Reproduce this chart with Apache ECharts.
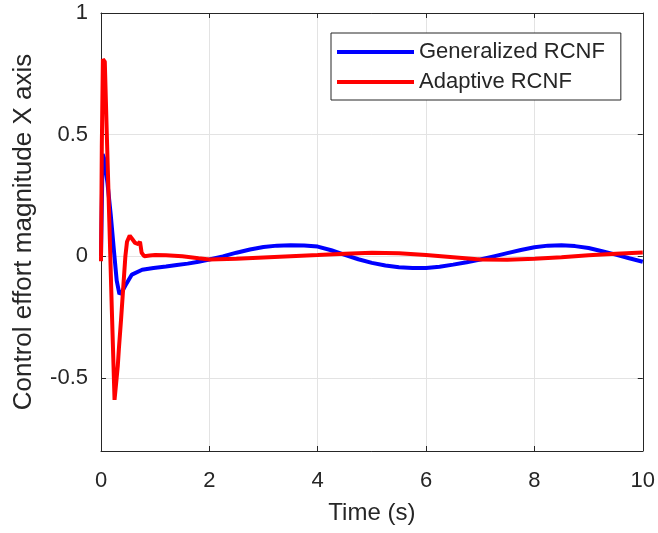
<!DOCTYPE html>
<html>
<head>
<meta charset="utf-8">
<script src="https://cdn.jsdelivr.net/npm/echarts@6/dist/echarts.min.js"></script>
<style>
html,body{margin:0;padding:0;background:#fff;}
#chart{width:658px;height:533px;}
</style>
</head>
<body>
<div id="chart"></div>
<script>
const tBlue = [0, 0.03, 0.06, 0.12, 0.18, 0.24, 0.29, 0.34, 0.39, 0.45, 0.57, 0.76, 0.97, 1.2, 1.4, 1.6, 1.8, 2.0, 2.25, 2.5, 2.75, 3.0, 3.25, 3.5, 3.75, 4.0, 4.25, 4.5, 4.75, 5.0, 5.25, 5.5, 5.75, 6.0, 6.25, 6.5, 6.75, 7.0, 7.25, 7.5, 7.75, 8.0, 8.25, 8.5, 8.75, 9.0, 9.25, 9.5, 9.75, 10];
const vBlue = [0, 0.42, 0.40, 0.30, 0.17, 0.02, -0.10, -0.155, -0.145, -0.12, -0.075, -0.055, -0.048, -0.042, -0.036, -0.03, -0.022, -0.013, 0.0, 0.015, 0.028, 0.038, 0.044, 0.046, 0.045, 0.04, 0.025, 0.006, -0.012, -0.027, -0.038, -0.045, -0.048, -0.048, -0.043, -0.034, -0.024, -0.013, 0.0, 0.013, 0.026, 0.037, 0.044, 0.046, 0.042, 0.034, 0.021, 0.007, -0.008, -0.022];
const tRed = [0, 0.015, 0.035, 0.07, 0.11, 0.154, 0.2, 0.25, 0.28, 0.31, 0.33, 0.37, 0.41, 0.45, 0.48, 0.53, 0.58, 0.63, 0.66, 0.69, 0.72, 0.75, 0.8, 0.9, 1.0, 1.2, 1.5, 1.8, 2.0, 2.5, 3.0, 3.5, 4.0, 4.5, 5.0, 5.5, 6.0, 6.5, 7.0, 7.5, 8.0, 8.5, 9.0, 9.5, 10];
const vRed = [-0.02, 0.45, 0.81, 0.80, 0.48, 0.14, -0.22, -0.59, -0.52, -0.45, -0.38, -0.26, -0.13, 0.0, 0.06, 0.085, 0.07, 0.055, 0.06, 0.05, 0.06, 0.015, 0.0, 0.003, 0.005, 0.004, 0.0, -0.008, -0.013, -0.01, -0.005, 0.0, 0.005, 0.011, 0.015, 0.013, 0.005, -0.004, -0.013, -0.014, -0.01, -0.004, 0.004, 0.011, 0.016];
const xTicks = [0, 2, 4, 6, 8, 10];
const yTicks = [-0.5, 0, 0.5, 1];
const seriesNames = ['Generalized RCNF', 'Adaptive RCNF'];

const axisColor = '#262626';
const gridColor = '#e3e3e3';
const font = 'Liberation Sans, Arial, Helvetica, sans-serif';

const chart = echarts.init(document.getElementById('chart'), null, {renderer: 'canvas'});
const baseX = {
  type: 'value', min: 0, max: 10,
  axisLine: {show: true, onZero: false, lineStyle: {color: axisColor, width: 1}},
  axisTick: {show: true, inside: true, length: 5, customValues: xTicks, lineStyle: {color: axisColor}},
};
const baseY = {
  type: 'value', min: -0.8, max: 1,
  axisLine: {show: true, onZero: false, lineStyle: {color: axisColor, width: 1}},
  axisTick: {show: true, inside: true, length: 5, customValues: yTicks, lineStyle: {color: axisColor}},
};
chart.setOption({
  animation: false,
  backgroundColor: '#fff',
  grid: {left: 101, right: 15, top: 13, bottom: 82, containLabel: false},
  legend: {
    orient: 'vertical', left: 331, top: 33,
    backgroundColor: '#fff', borderColor: axisColor, borderWidth: 1,
    padding: [8, 16, 7, 6], itemGap: 8,
    itemWidth: 77, itemHeight: 4,
    textStyle: {fontFamily: font, fontSize: 22, color: axisColor},
    data: [{name: seriesNames[0], icon: 'rect'}, {name: seriesNames[1], icon: 'rect'}]
  },
  xAxis: [
    Object.assign({}, baseX, {
      position: 'bottom',
      name: 'Time (s)', nameLocation: 'middle', nameGap: 50,
      nameTextStyle: {fontFamily: font, fontSize: 24, color: axisColor},
      axisLabel: {show: true, customValues: xTicks, margin: 19, fontFamily: font, fontSize: 22, color: axisColor},
      splitLine: {show: true, lineStyle: {color: gridColor, width: 1}}
    }),
    Object.assign({}, baseX, {
      position: 'top',
      axisLabel: {show: false},
      splitLine: {show: false}
    })
  ],
  yAxis: [
    Object.assign({}, baseY, {
      position: 'left',
      name: 'Control effort magnitude X axis', nameLocation: 'middle', nameGap: 64, nameRotate: 90,
      nameTextStyle: {fontFamily: font, fontSize: 26, color: axisColor},
      axisLabel: {show: true, customValues: yTicks, margin: 13, fontFamily: font, fontSize: 22, color: axisColor,
        formatter: v => (v < 0 ? '-' + String(Math.abs(v)) : String(v))},
      splitLine: {show: true, lineStyle: {color: gridColor, width: 1}}
    }),
    Object.assign({}, baseY, {
      position: 'right',
      axisLabel: {show: false},
      splitLine: {show: false}
    })
  ],
  series: [
    {
      name: seriesNames[0], type: 'line', xAxisIndex: 0, yAxisIndex: 0,
      data: tBlue.map((t, i) => [t, vBlue[i]]),
      showSymbol: false, symbol: 'none',
      lineStyle: {color: '#0000ff', width: 4},
      itemStyle: {color: '#0000ff'},
      z: 2
    },
    {
      name: seriesNames[1], type: 'line', xAxisIndex: 0, yAxisIndex: 0,
      data: tRed.map((t, i) => [t, vRed[i]]),
      showSymbol: false, symbol: 'none',
      lineStyle: {color: '#ff0000', width: 4},
      itemStyle: {color: '#ff0000'},
      z: 3
    }
  ]
});
</script>
</body>
</html>
